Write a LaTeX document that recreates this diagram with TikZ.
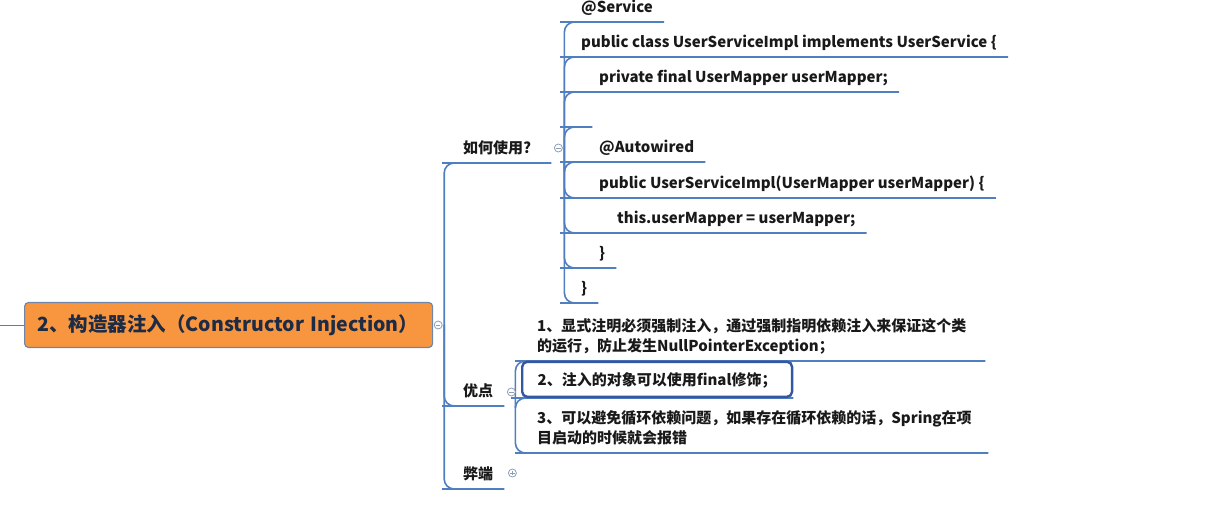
\documentclass[tikz,border=0pt]{standalone}
\usepackage{fontspec}
\setmainfont{Noto Sans CJK SC}
\usepackage{xcolor}
\usetikzlibrary{calc,backgrounds}

\definecolor{linkblue}{HTML}{4F7FBF}
\definecolor{rootorange}{HTML}{F7963F}
\definecolor{rootedge}{HTML}{6F86A8}
\definecolor{rootink}{HTML}{1E2B45}
\definecolor{hiliteblue}{HTML}{3557A0}
\definecolor{knobgray}{HTML}{8C9DB8}

\begin{document}
\begin{tikzpicture}[x=1pt,y=-1pt,
		every node/.style={font=\bfseries\fontsize{15}{20}\selectfont,text=black!90},
		topic/.style={anchor=south west,inner xsep=11pt,inner ysep=5pt,text height=11pt,text depth=4pt,align=left},
		twoline/.style={topic,inner xsep=12pt,text depth=24pt},
		hilite/.style={topic,draw=hiliteblue,line width=2.4pt,rounded corners=5pt,inner xsep=15.5pt,inner ysep=7pt,text height=17pt},
		link/.style={draw=linkblue,line width=1.6pt,rounded corners=10pt},
		minusknob/.style={circle,draw=knobgray,fill=white,line width=.8pt,inner sep=0pt,minimum size=8pt,
			path picture={\draw[knobgray,line width=.8pt] ([xshift=1.8pt]path picture bounding box.west) -- ([xshift=-1.8pt]path picture bounding box.east);}},
		plusknob/.style={minusknob,
			path picture={\draw[knobgray,line width=.8pt] ([xshift=1.8pt]path picture bounding box.west) -- ([xshift=-1.8pt]path picture bounding box.east)
				([yshift=-1.8pt]path picture bounding box.north) -- ([yshift=1.8pt]path picture bounding box.south);}}]

	\useasboundingbox (0,0) rectangle (1227,505);

	% root topic
	\coordinate (lead) at (0,325);
	\node[draw=rootedge,fill=rootorange,rounded corners=4pt,line width=1.2pt,anchor=west,minimum height=45pt,
		text width=382pt,inner xsep=13pt,align=left,font=\bfseries\fontsize{19.5}{22}\selectfont,text=rootink]
		(root) at (24,325) {2、构造器注入（Constructor Injection）};

	% main branches
	\node[topic,text width=77pt] (hw) at (452,163) {如何使用?};
	\node[topic] (ys) at (452,406) {优点};
	\node[topic] (bd) at (452,489) {弊端};

	% code lines
	\node[topic] (c1) at (570,22)  {@Service};
	\node[topic] (c2) at (570,57)  {public class UserServiceImpl implements UserService \{};
	\node[topic] (c3) at (570,92)  {\hspace*{18pt}private final UserMapper userMapper;};
	\node[topic] (c4) at (570,127) {};
	\node[topic] (c5) at (570,162) {\hspace*{18pt}@Autowired};
	\node[topic] (c6) at (570,198) {\hspace*{18pt}public UserServiceImpl(UserMapper userMapper) \{};
	\node[topic] (c7) at (570,233) {\hspace*{36pt}this.userMapper = userMapper;};
	\node[topic] (c8) at (570,268) {\hspace*{18pt}\}};
	\node[topic] (c9) at (570,303) {\}};

	% advantages
	\node[twoline,text width=436pt] (p1) at (525,361)
		{1、显式注明必须强制注入，通过强制指明依赖注入来保证这个类\\的运行，防止发生NullPointerException；};
	\node[hilite] (p2) at (521,398) {2、注入的对象可以使用final修饰；};
	\node[twoline,text width=439pt] (p3) at (525,453)
		{3、可以避免循环依赖问题，如果存在循环依赖的话，Spring在项\\目启动的时候就会报错};

	% collapse knobs
	\node[minusknob] (k0) at ($(root.east)+(5,0)$) {};
	\node[minusknob] (k1) at ($(hw.south east)+(7,-15)$) {};
	\node[minusknob] (k2) at ($(ys.south east)+(7,-14)$) {};
	\node[plusknob]  (k3) at ($(bd.south east)+(8,-16)$) {};

	\coordinate (r0) at ($(root.east)+(11,0)$);
	\coordinate (r1) at ($(hw.south east)+(13,0)$);
	\coordinate (r2) at ($(ys.south east)+(11,0)$);

	\begin{scope}[on background layer]
		\draw[draw=linkblue,line width=1pt] (lead) -- (root.west);
		\foreach \t in {hw,ys,bd}
			\draw[link] (r0) |- (\t.south west) -- (\t.south east);
		\foreach \t in {c1,c2,c3,c4,c5,c6,c7,c8,c9}
			\draw[link] (r1) |- (\t.south west) -- (\t.south east);
		\foreach \t in {p1,p2,p3}
			\draw[link] (r2) |- (\t.south west) -- (\t.south east);
	\end{scope}
\end{tikzpicture}
\end{document}
